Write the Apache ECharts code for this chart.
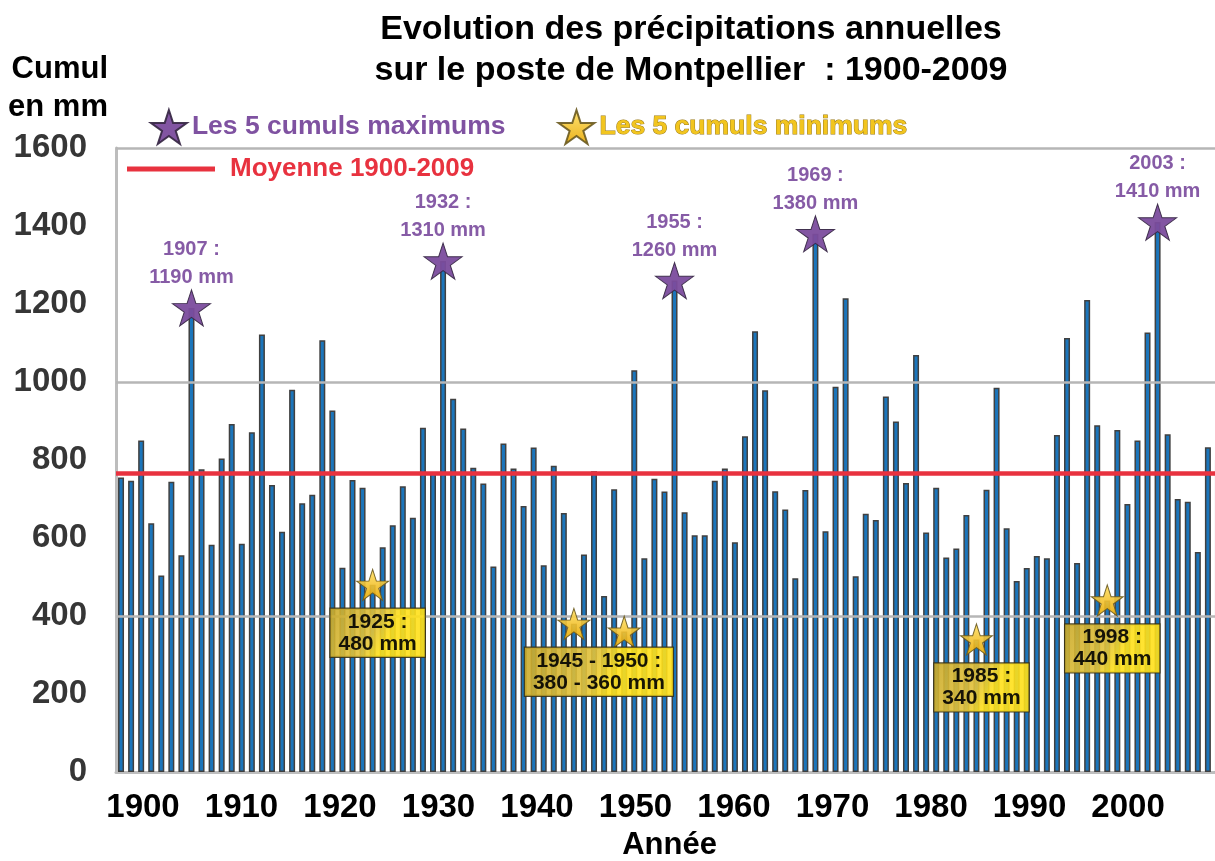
<!DOCTYPE html>
<html>
<head>
<meta charset="utf-8">
<script src="https://cdn.jsdelivr.net/npm/echarts@6/dist/echarts.min.js"></script>
<style>
html, body { margin: 0; padding: 0; background: #fff; }
#chart { width: 1215px; height: 861px; }
</style>
</head>
<body>
<div id="chart"></div>
<script>
var chart = echarts.init(document.getElementById('chart'));

// annual totals (mm), 1900 -> 2009
var values = [
    755, 747, 850, 638, 504, 744, 556, 1190, 776, 583,
    804, 892, 585, 871, 1122, 736, 616, 980, 689, 711,
    1107, 927, 524, 749, 729, 480, 576, 633, 733, 652,
    883, 768, 1310, 957, 881, 780, 740, 527, 842, 778,
    682, 832, 530, 785, 664, 380, 558, 771, 451, 725,
    360, 1030, 548, 752, 719, 1260, 666, 607, 607, 747,
    778, 589, 861, 1130, 979, 720, 673, 497, 723, 1380,
    617, 988, 1215, 502, 662, 646, 963, 899, 741, 1069,
    614, 729, 550, 573, 659, 340, 724, 985, 625, 490,
    523, 554, 548, 864, 1113, 536, 1210, 889, 440, 877,
    687, 850, 1127, 1410, 866, 700, 693, 564, 833, 800
];
var firstYear = 1900;
var years = [];
for (var i = 0; i < values.length; i++) years.push(String(firstYear + i));

var yearTicks = [1900, 1910, 1920, 1930, 1940, 1950, 1960, 1970, 1980, 1990, 2000];
var maxYears = [1907, 1932, 1955, 1969, 2003];
var minYears = [1925, 1945, 1950, 1985, 1998];
var meanValue = 765;
var gridValues = [400, 1000, 1600];

var font = '"Liberation Sans", Arial, sans-serif';
var star = 'path://M50,0L61.2,34.5L97.6,34.5L68.2,55.9L79.4,90.5L50,69.1L20.6,90.5L31.8,55.9L2.4,34.5L38.8,34.5Z';

function val(y) { return values[y - firstYear]; }

var maxData = maxYears.map(function (y) { return [String(y), val(y)]; });

// 1945 and 1950 share one box
var minData = minYears.map(function (y) {
    var item = { value: [String(y), val(y)] };
    if (y === 1945) {
        item.label = {
            formatter: y + ' - 1950 :\n' + val(y) + ' - ' + val(1950) + ' mm',
            offset: [25, 0]
        };
    } else if (y === 1950) {
        item.label = { show: false };
    } else {
        item.label = { offset: [5, 0] };
    }
    return item;
});

var goldBox = {
    type: 'linear', x: 0, y: 0, x2: 1, y2: 1,
    colorStops: [
        { offset: 0, color: '#c9a92a' },
        { offset: 0.45, color: '#e2c23a' },
        { offset: 0.6, color: '#ffe01a' },
        { offset: 1, color: '#ffe01a' }
    ]
};
var goldStar = {
    type: 'linear', x: 0, y: 0, x2: 0, y2: 1,
    colorStops: [
        { offset: 0, color: '#ffe066' },
        { offset: 1, color: '#e8a800' }
    ]
};

option = {
    animation: false,
    backgroundColor: '#ffffff',
    title: {
        text: 'Evolution des précipitations annuelles\nsur le poste de Montpellier  : 1900-2009',
        left: 686,
        top: 4,
        textAlign: 'center',
        textStyle: {
            fontFamily: font,
            fontSize: 34,
            fontWeight: 'bold',
            color: '#000',
            lineHeight: 41,
            align: 'center'
        }
    },
    legend: [
        {
            left: 145,
            top: 104,
            itemWidth: 36,
            itemHeight: 34,
            itemGap: 52,
            selectedMode: false,
            textStyle: { fontFamily: font, fontSize: 26.5, fontWeight: 'bold' },
            data: [
                { name: 'Les 5 cumuls maximums', icon: star, textStyle: { color: '#7f52a1' } },
                { name: 'Les 5 cumuls minimums', icon: star,
                  textStyle: { color: '#f2c51e', textBorderColor: '#9a7a18', textBorderWidth: 1 } }
            ]
        },
        {
            left: 122,
            top: 151,
            itemWidth: 88,
            itemHeight: 5,
            selectedMode: false,
            textStyle: { fontFamily: font, fontSize: 26, fontWeight: 'bold', color: '#e8323f', padding: [0, 0, 0, 10] },
            data: [{ name: 'Moyenne 1900-2009', icon: 'rect' }]
        }
    ],
    grid: {
        left: 116,
        top: 148,
        width: 1107,
        height: 624,
        outerBoundsMode: 'none'
    },
    xAxis: [
        {
            type: 'category',
            data: years,
            name: 'Année',
            nameLocation: 'middle',
            nameGap: 58,
            nameTextStyle: { fontFamily: font, fontSize: 31, fontWeight: 'bold', color: '#000' },
            axisLine: { lineStyle: { color: '#bdbdbd', width: 3 } },
            axisTick: { show: false },
            axisLabel: { show: false },
            splitLine: { show: false }
        },
        {
            // label axis: year labels sit slightly off the bars in the original
            type: 'value',
            position: 'bottom',
            offset: 0,
            min: 1897.26,
            max: 2009.64,
            axisLine: { show: false },
            axisTick: { show: false },
            splitLine: { show: false },
            axisLabel: {
                customValues: yearTicks,
                formatter: function (v) { return String(v); },
                margin: 19,
                fontFamily: font,
                fontSize: 33,
                fontWeight: 'bold',
                color: '#000'
            }
        }
    ],
    yAxis: {
        type: 'value',
        min: 0,
        max: 1600,
        interval: 200,
        name: 'Cumul\nen mm',
        nameLocation: 'end',
        nameGap: 22,
        nameTextStyle: {
            fontFamily: font, fontSize: 31, fontWeight: 'bold', color: '#000',
            align: 'right', lineHeight: 38, padding: [0, 8, 0, 0]
        },
        axisLine: { show: true, lineStyle: { color: '#bdbdbd', width: 3 } },
        axisTick: { show: false },
        axisLabel: {
            margin: 29,
            formatter: function (v) { return String(v); },
            fontFamily: font,
            fontSize: 33,
            fontWeight: 'bold',
            color: '#363636'
        },
        splitLine: { show: false }
    },
    series: [
        {
            name: 'Cumul',
            type: 'bar',
            data: values,
            barWidth: 6,
            itemStyle: { color: '#1b75bb', borderColor: '#404040', borderWidth: 1.5 },
            markLine: {
                silent: true,
                symbol: 'none',
                label: { show: false },
                lineStyle: { color: '#b6b6b6', width: 2.5, type: 'solid' },
                data: gridValues.map(function (v) { return { yAxis: v }; })
            }
        },
        {
            name: 'Moyenne 1900-2009',
            type: 'line',
            data: [],
            color: '#e8323f',
            lineStyle: { color: '#e8323f', width: 5 },
            markLine: {
                silent: true,
                symbol: 'none',
                label: { show: false },
                lineStyle: { color: '#e8323f', width: 4.5, type: 'solid' },
                data: [{ yAxis: meanValue }]
            }
        },
        {
            name: 'Les 5 cumuls maximums',
            type: 'scatter',
            data: maxData,
            symbol: star,
            symbolSize: [38, 36],
            z: 5,
            itemStyle: { color: '#7b4c9d', borderColor: '#3a2a48', borderWidth: 1, opacity: 0.95 },
            label: {
                show: true,
                position: 'top',
                distance: -2,
                formatter: function (p) { return p.value[0] + ' :\n' + p.value[1] + ' mm'; },
                fontFamily: font,
                fontSize: 20,
                fontWeight: 'bold',
                lineHeight: 28,
                color: '#7f52a1'
            }
        },
        {
            name: 'Les 5 cumuls minimums',
            type: 'scatter',
            data: minData,
            symbol: star,
            symbolSize: [32, 31],
            z: 5,
            itemStyle: { color: goldStar, borderColor: '#6a5a20', borderWidth: 1, opacity: 0.9 },
            label: {
                show: true,
                position: 'bottom',
                distance: 8,
                formatter: function (p) { return p.value[0] + ' :\n' + p.value[1] + ' mm'; },
                fontFamily: font,
                fontSize: 21,
                fontWeight: 'bold',
                lineHeight: 22,
                color: '#000',
                backgroundColor: goldBox,
                borderColor: '#3a3416',
                borderWidth: 1.2,
                padding: [2, 8]
            }
        }
    ]
};

chart.setOption(option);
</script>
</body>
</html>
